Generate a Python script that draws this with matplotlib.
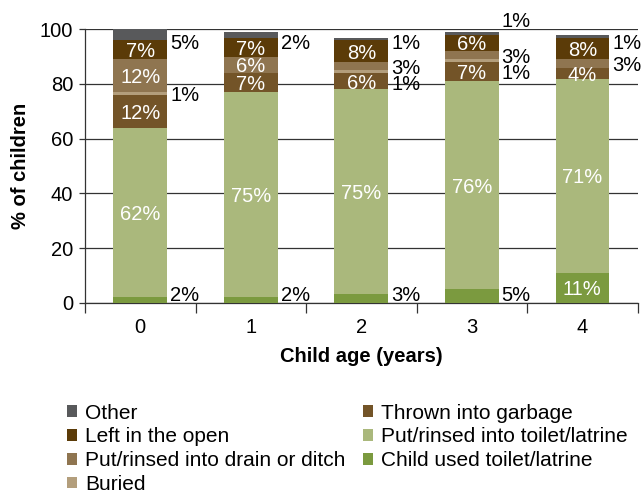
import matplotlib
matplotlib.use("Agg")
import matplotlib.pyplot as plt
import numpy as np

plt.rcParams['font.family'] = ['Liberation Sans', 'DejaVu Sans']

# Child age groups (years)
ages = ["0", "1", "2", "3", "4"]

# Disposal of child stools, % of children; listed bottom-to-top of each stack
child_used = [2, 2, 3, 5, 11]
toilet = [62, 75, 75, 76, 71]
garbage = [12, 7, 6, 7, 4]
buried = [1, 0, 1, 1, 0]
drain = [12, 6, 3, 3, 3]
open_air = [7, 7, 8, 6, 8]
other = [5, 2, 1, 1, 1]

series_names = [
    "Child used toilet/latrine",
    "Put/rinsed into toilet/latrine",
    "Thrown into garbage",
    "Buried",
    "Put/rinsed into drain or ditch",
    "Left in the open",
    "Other",
]
series_values = [child_used, toilet, garbage, buried, drain, open_air, other]
series_colors = ["#7b9a3f", "#aab87c", "#735428", "#b39e7c", "#8f7550",
                 "#5b3b08", "#58595b"]

FS = 14.5
LINE = "#333333"
BAR_W = 0.485

fig = plt.figure(figsize=(6.44, 4.97), dpi=100)
ax = fig.add_axes([0.132, 0.391, 0.858, 0.550])

x = np.arange(len(ages))
bottom = np.zeros(len(ages))
handles = []
outside = [[] for _ in ages]
n_series = len(series_values)
for k, (name, vals, col) in enumerate(zip(series_names, series_values, series_colors)):
    vals = np.asarray(vals, dtype=float)
    h = ax.bar(x, vals, width=BAR_W, bottom=bottom, color=col,
               linewidth=0, zorder=3, label=name)
    handles.append(h)
    edge = k in (0, n_series - 1)
    for i, v in enumerate(vals):
        if v <= 0:
            continue
        c = bottom[i] + v / 2
        txt = f"{int(v)}%"
        inside = v >= 10 if edge else v >= 4
        if inside:
            ax.text(x[i], c, txt, ha="center", va="center_baseline",
                    color="white", fontsize=FS, zorder=4)
        else:
            outside[i].append((c, txt, k == n_series - 1))
    bottom += vals

# Labels for thin segments sit to the right of each bar, stacked top-down.
TOP_LIM, BOT_LIM, GAP, MAX_SHIFT = 95.7, 3.5, 6.0, 4.4


def stack_down(items, limit):
    ys, prev = [], None
    for c, _, _ in items:
        y = min(c, limit) if prev is None else min(c, prev - GAP)
        y = max(y, BOT_LIM)
        ys.append(y)
        prev = y
    return ys


for i, labs in enumerate(outside):
    labs = sorted(labs, key=lambda t: -t[0])
    ys = stack_down(labs, TOP_LIM)
    lx = x[i] + BAR_W / 2 + 0.027
    shifts = [c - y for (c, _, _), y in zip(labs, ys)]
    if len(labs) > 2 and labs[0][2] and max(shifts) > MAX_SHIFT:
        # crowded: the top label moves above the bar
        ax.text(lx, bottom[i] + 4.5, labs[0][1], ha="left",
                va="center_baseline", fontsize=FS, clip_on=False, zorder=4)
        labs = labs[1:]
        ys = stack_down(labs, TOP_LIM)
    for (c, txt, _), y in zip(labs, ys):
        ax.text(lx, y, txt, ha="left", va="center_baseline", color="black",
                fontsize=FS, clip_on=False, zorder=4)

ax.set_xlim(-0.5, len(ages) - 0.5)
ax.set_ylim(0, 100)
ax.set_yticks(np.arange(0, 101, 20))
ax.yaxis.grid(True, color=LINE, linewidth=0.9, zorder=0)
ax.set_axisbelow(True)

# category boundaries carry the tick marks, centres carry the labels
ax.set_xticks(np.arange(-0.5, len(ages), 1.0))
ax.set_xticklabels([])
ax.set_xticks(x, minor=True)
ax.set_xticklabels(ages, minor=True)
ax.tick_params(axis="x", which="major", length=7.5, width=0.9, color=LINE,
               direction="out")
ax.tick_params(axis="x", which="minor", length=0, pad=11, labelsize=FS)
ax.tick_params(axis="y", length=4.5, width=0.9, color=LINE, pad=4,
               labelsize=FS)

for s in ("top", "right"):
    ax.spines[s].set_visible(False)
for s in ("left", "bottom"):
    ax.spines[s].set_color(LINE)
    ax.spines[s].set_linewidth(0.9)

ax.set_xlabel("Child age (years)", fontsize=FS, fontweight="bold", labelpad=7.5)
ax.set_ylabel("% of children", fontsize=FS, fontweight="bold", labelpad=7)

leg_order = [6, 5, 4, 3, 2, 1, 0]
fig.legend([handles[j] for j in leg_order], [series_names[j] for j in leg_order],
           ncol=2, loc="upper left", bbox_to_anchor=(0.1036, 0.188),
           frameon=False, fontsize=15, handlelength=0.48, handleheight=0.48,
           handletextpad=0.4, labelspacing=0.23, columnspacing=0.82,
           borderaxespad=0, borderpad=0)

fig.savefig("out.png", dpi=100)
